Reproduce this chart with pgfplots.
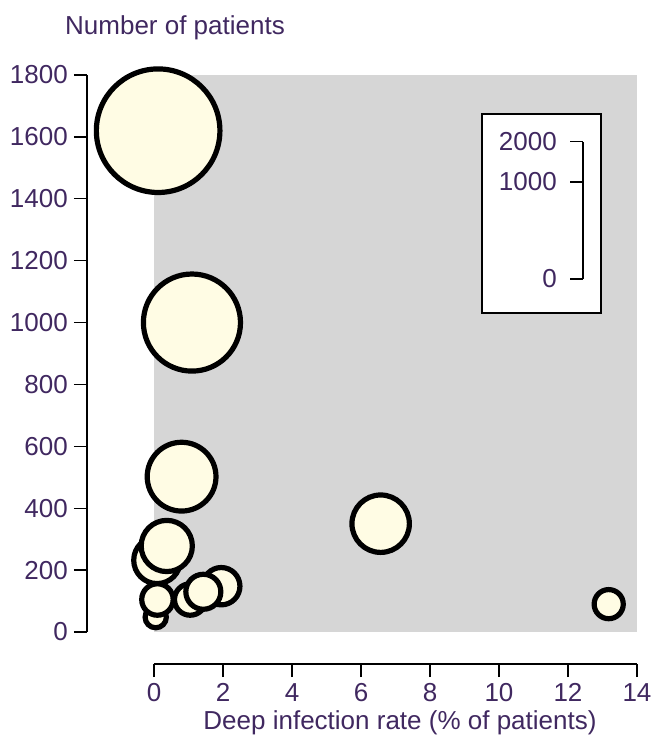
\documentclass[border=0pt]{standalone}
\usepackage{pgfplots}
\pgfplotsset{compat=1.18}
\usepackage{fontspec}
\setmainfont{Liberation Sans}
\definecolor{bggray}{RGB}{214,214,214}
\definecolor{bubble}{RGB}{255,252,228}
\definecolor{txt}{RGB}{64,40,96}
\newcommand\bigf{\fontsize{26}{31}\selectfont}
\pgfplotstableread{
x y
0.12 1620
1.1 1000
0.8 502
6.57 350
13.18 90
0.05 48
0.09 232
0.1 105
1.05 105
1.95 148
1.43 130
0.37 278
}\bubbles
\begin{document}
\begin{tikzpicture}
\begin{axis}[
  at={(0pt,0pt)}, anchor=south west,
  scale only axis, width=483pt, height=557pt,
  xmin=0, xmax=14, ymin=0, ymax=1800,
  axis background/.style={fill=bggray},
  axis x line*=bottom, axis y line*=left,
  axis x line shift=32pt, axis y line shift=67pt,
  axis line style={-, line width=2pt, black},
  xtick={0,2,...,14}, ytick={0,200,...,1800},
  tick align=outside, major tick length=13pt,
  tick style={black, line width=1.4pt},
  tick label style={font=\bigf, text=txt, /pgf/number format/assume math mode=true},
  yticklabel style={inner sep=0pt, xshift=-6pt},
  xticklabel style={inner sep=0pt, yshift=-6pt},
  /pgf/number format/1000 sep={},
  clip=false,
]
\addplot[
  scatter, only marks, mark=*, point meta=y,
  scatter/use mapped color={draw=black, fill=bubble},
  mark options={line width=5.2pt},
  visualization depends on={1.535*sqrt(\thisrow{y}) \as \rad},
  scatter/@pre marker code/.append style={/tikz/mark size=\rad},
] table[x=x, y=y] {\bubbles};
\end{axis}
% size legend
\draw[line width=2pt, fill=white] (327.7pt,319.3pt) rectangle (446.7pt,518pt);
\draw[line width=2pt] (429.3pt,353pt) -- (429.3pt,490.3pt);
\foreach \yy/\lab in {353/0, 450.1/1000, 490.3/2000}{
  \draw[line width=1.4pt] (416pt,\yy pt) -- (429.3pt,\yy pt);
  \node[anchor=east, inner sep=0pt, font=\bigf, text=txt] at (403pt,\yy pt) {\lab};
}
\node[anchor=base, font=\bigf, text=txt, inner sep=0pt] at (21pt,597.7pt) {Number of patients};
\node[anchor=base, font=\bigf, text=txt, inner sep=0pt] at (246pt,-97pt) {Deep infection rate (\% of patients)};
\pgfresetboundingbox
\useasboundingbox (-154pt,-104pt) rectangle (499pt,632pt);
\end{tikzpicture}
\end{document}
